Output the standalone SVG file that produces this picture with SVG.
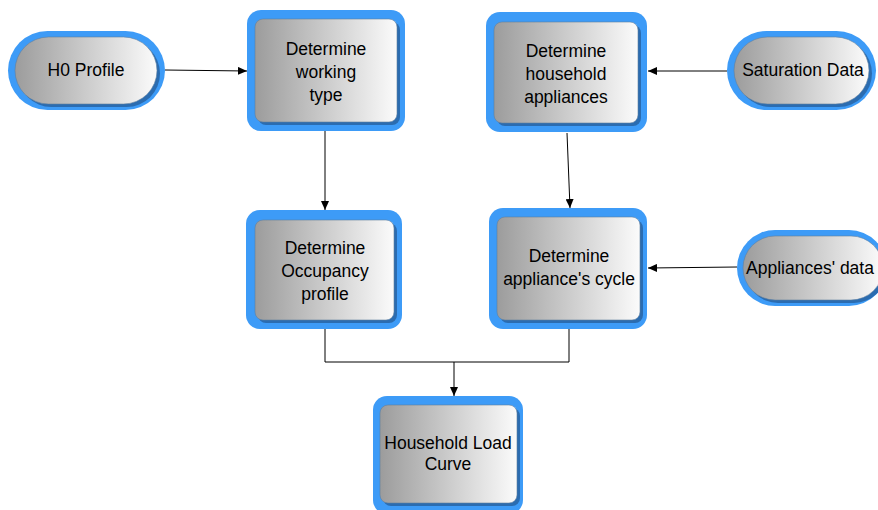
<svg xmlns="http://www.w3.org/2000/svg" width="878" height="510" viewBox="0 0 878 510">
<defs>
<linearGradient id="g" x1="0" y1="0" x2="1" y2="0">
<stop offset="0" stop-color="#9c9c9c"/>
<stop offset="1" stop-color="#fbfbfb"/>
</linearGradient>
<marker id="arr" markerUnits="userSpaceOnUse" markerWidth="10" markerHeight="8" refX="9" refY="4" orient="auto">
<path d="M0,0 L9,4 L0,8 Z" fill="#000"/>
</marker>
</defs>
<style>
.o{fill:#3d9bf7}
.s{fill:#2b6cb0}
.i{fill:url(#g);stroke:#5f7f9f;stroke-width:0.6}
.t{font-family:"Liberation Sans",Arial,sans-serif;font-size:17.5px;fill:#000;text-anchor:middle}
.c{stroke:#000;stroke-width:1;fill:none}
</style>
<rect width="878" height="510" fill="#fff"/>
<g id="connectors">
<line class="c" x1="165" y1="70" x2="247" y2="71" marker-end="url(#arr)"/>
<line class="c" x1="727" y1="71" x2="648" y2="71" marker-end="url(#arr)"/>
<line class="c" x1="325" y1="131" x2="325" y2="210" marker-end="url(#arr)"/>
<line class="c" x1="567" y1="133" x2="570" y2="208" marker-end="url(#arr)"/>
<line class="c" x1="737" y1="267" x2="648" y2="268" marker-end="url(#arr)"/>
<polyline class="c" points="325,329 325,362 569,362 569,329"/>
<line class="c" x1="454" y1="362" x2="454" y2="396" marker-end="url(#arr)"/>
</g>
<g id="h0">
<rect class="o" x="8" y="31" width="157" height="79" rx="39.5"/>
<rect class="s" x="18" y="40" width="142" height="67" rx="33.5"/>
<rect class="i" x="15" y="37" width="142" height="67" rx="33.5"/>
<text class="t" x="86" y="76">H0 Profile</text>
</g>
<g id="working">
<rect class="o" x="247" y="10" width="158" height="121" rx="14"/>
<rect class="s" x="258" y="22" width="142" height="103" rx="8"/>
<rect class="i" x="255" y="19" width="142" height="103" rx="8"/>
<text class="t" x="326" y="55">Determine</text>
<text class="t" x="326" y="78">working</text>
<text class="t" x="326" y="101">type</text>
</g>
<g id="appliances">
<rect class="o" x="486" y="12" width="161" height="120" rx="14"/>
<rect class="s" x="497" y="25" width="144" height="101" rx="8"/>
<rect class="i" x="494" y="22" width="144" height="101" rx="8"/>
<text class="t" x="566" y="57">Determine</text>
<text class="t" x="566" y="80">household</text>
<text class="t" x="566" y="103">appliances</text>
</g>
<g id="saturation">
<rect class="o" x="727" y="31" width="149" height="79" rx="39.5"/>
<rect class="s" x="737" y="40" width="135" height="67" rx="33.5"/>
<rect class="i" x="734" y="37" width="135" height="67" rx="33.5"/>
<text class="t" x="803" y="76">Saturation Data</text>
</g>
<g id="occupancy">
<rect class="o" x="246" y="210" width="156" height="119" rx="14"/>
<rect class="s" x="258" y="223" width="139" height="100" rx="8"/>
<rect class="i" x="255" y="220" width="139" height="100" rx="8"/>
<text class="t" x="325" y="254">Determine</text>
<text class="t" x="325" y="277">Occupancy</text>
<text class="t" x="325" y="300">profile</text>
</g>
<g id="cycle">
<rect class="o" x="489" y="208" width="158" height="121" rx="14"/>
<rect class="s" x="500" y="220" width="143" height="103" rx="8"/>
<rect class="i" x="497" y="217" width="143" height="103" rx="8"/>
<text class="t" x="569" y="262">Determine</text>
<text class="t" x="569" y="285">appliance's cycle</text>
</g>
<g id="appdata">
<rect class="o" x="737" y="230" width="150" height="76" rx="38"/>
<rect class="s" x="746" y="239" width="140" height="64" rx="32"/>
<rect class="i" x="743" y="236" width="140" height="64" rx="32"/>
<text class="t" x="810" y="274">Appliances' data</text>
</g>
<g id="load">
<rect class="o" x="373" y="396" width="150" height="118" rx="14"/>
<rect class="s" x="383" y="408" width="137" height="98" rx="8"/>
<rect class="i" x="380" y="405" width="137" height="98" rx="8"/>
<text class="t" x="448" y="449">Household Load</text>
<text class="t" x="448" y="470">Curve</text>
</g>
</svg>
